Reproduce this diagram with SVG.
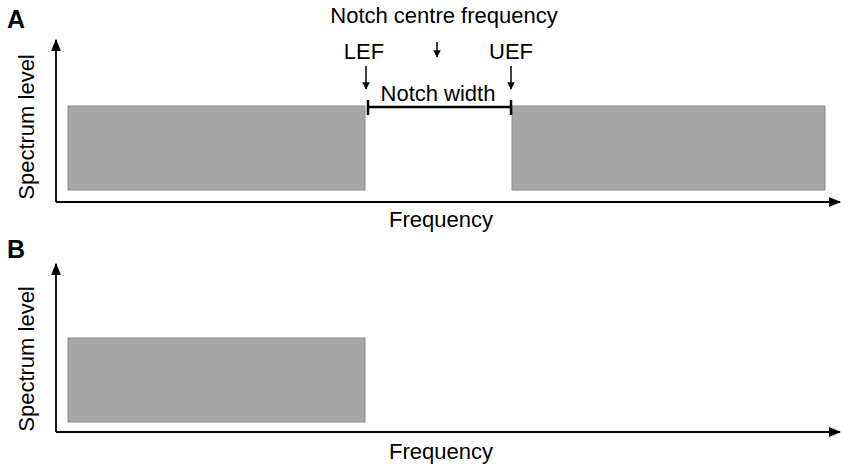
<svg xmlns="http://www.w3.org/2000/svg" width="851" height="469" viewBox="0 0 851 469">
<style>
.t{font-family:"Liberation Sans",Arial,sans-serif;font-size:22px;fill:#000}
.p{font-family:"Liberation Sans",Arial,sans-serif;font-size:25px;font-weight:bold;fill:#000}
.ax{stroke:#000;stroke-width:1.8;fill:none}
.bar{fill:#a6a6a6;stroke:#8c8c8c;stroke-width:1}
</style>
<defs>
<marker id="ah" viewBox="0 0 10 10" refX="9" refY="5" markerWidth="7" markerHeight="7" orient="auto"><path d="M0,1 L10,5 L0,9 z" fill="#000"/></marker>
<marker id="sa" viewBox="0 0 10 10" refX="9" refY="5" markerWidth="5" markerHeight="6" orient="auto"><path d="M0,0 L10,5 L0,10 z" fill="#000"/></marker>
</defs>
<text class="p" x="7" y="28">A</text>
<text class="p" x="7" y="258">B</text>
<g id="panelA">
<rect class="bar" x="68" y="106" width="297" height="84"/>
<rect class="bar" x="512" y="106" width="313" height="84"/>
<text class="t" transform="translate(34,127) rotate(-90)" text-anchor="middle">Spectrum level</text>
<text class="t" x="441" y="227" text-anchor="middle">Frequency</text>
<text class="t" x="444" y="23" text-anchor="middle">Notch centre frequency</text>
<text class="t" x="364" y="59" text-anchor="middle">LEF</text>
<text class="t" x="511" y="59" text-anchor="middle">UEF</text>
<text class="t" x="438" y="101" text-anchor="middle">Notch width</text>
</g>
<g id="panelB">
<rect class="bar" x="68" y="338" width="297" height="84"/>
<text class="t" transform="translate(34,359) rotate(-90)" text-anchor="middle">Spectrum level</text>
<text class="t" x="441" y="459" text-anchor="middle">Frequency</text>
</g>
<g id="connectors">
<path class="ax" d="M56,202 V40" marker-end="url(#ah)"/>
<path class="ax" d="M56,202 H840" marker-end="url(#ah)"/>
<path class="ax" d="M56,432 V264" marker-end="url(#ah)"/>
<path class="ax" d="M56,432 H840" marker-end="url(#ah)"/>
<path d="M368,107 H511 M368,100 V115 M511,100 V115" stroke="#000" stroke-width="2.5" fill="none"/>
<path d="M366,66 V89" stroke="#000" stroke-width="1.5" marker-end="url(#sa)"/>
<path d="M511,66 V89" stroke="#000" stroke-width="1.5" marker-end="url(#sa)"/>
<path d="M437,42 V57" stroke="#000" stroke-width="1.5" marker-end="url(#sa)"/>
</g>
</svg>
